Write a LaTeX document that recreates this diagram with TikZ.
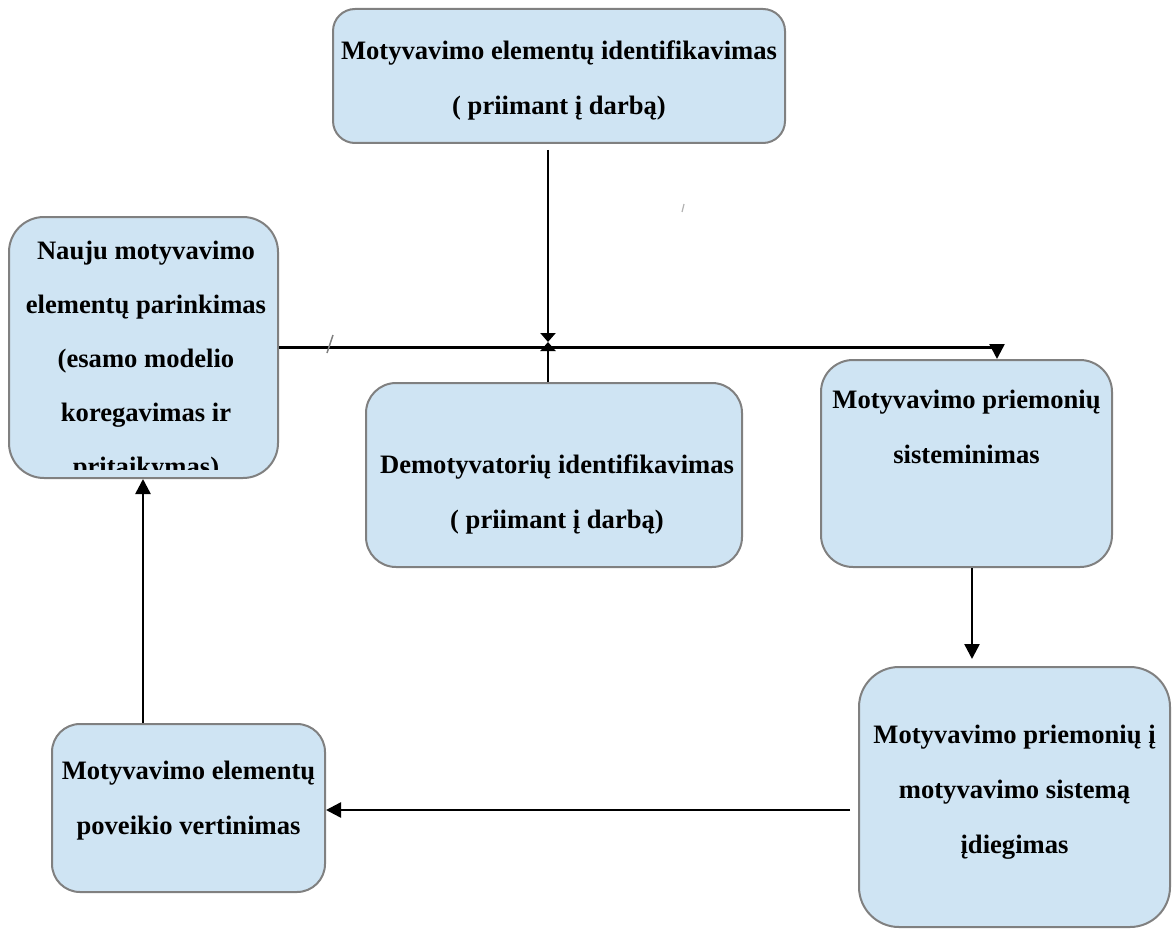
\documentclass[tikz,border=0pt]{standalone}
\usepackage{fontspec}
\setmainfont{Liberation Serif}
\usetikzlibrary{arrows.meta,calc}
\definecolor{boxfill}{RGB}{207,228,243}
\definecolor{boxline}{RGB}{128,128,128}
\begin{document}
\begin{tikzpicture}[x=1pt,y=-1pt,
  box/.style={draw=boxline, line width=2pt, fill=boxfill, inner sep=0pt},
  % anchor=base sits on the baseline of the last line
  lbl/.style={font=\fontsize{26.6}{55}\selectfont\bfseries, align=center, anchor=base, inner sep=0pt},
  arr/.style={line width=2.5pt, -{Triangle[length=15pt,width=15pt]}},
  meet/.style={line width=2.5pt, -{Triangle[length=9pt,width=15pt]}},
]
\useasboundingbox (0,0) rectangle (1174,928);

% process boxes
\node[box, rounded corners=22pt, minimum width=452pt, minimum height=134pt] (top) at (559,76) {};
\node[box, rounded corners=35pt, minimum width=269pt, minimum height=261pt] (left) at (143.5,347.5) {};
\node[box, rounded corners=30pt, minimum width=376pt, minimum height=184pt] (center) at (554,475) {};
\node[box, rounded corners=32pt, minimum width=291pt, minimum height=207pt] (right) at (966.5,463.5) {};
\node[box, rounded corners=40pt, minimum width=311pt, minimum height=260pt] (br) at (1014.5,797) {};
\node[box, rounded corners=28pt, minimum width=273pt, minimum height=168pt] (bl) at (188.5,808) {};

% box texts
\node[lbl] (top-t) at (559,115) {Motyvavimo elementų identifikavimas\\( priimant į darbą)};
\begin{scope}
  \clip (9,217) rectangle (278,469);
  \node[lbl, font=\fontsize{26.6}{54}\selectfont\bfseries] (left-t) at (146,475) {Nauju motyvavimo\\elementų parinkimas\\(esamo modelio\\koregavimas ir\\pritaikymas)};
\end{scope}
\node[lbl] (center-t) at (557,528) {Demotyvatorių identifikavimas\\( priimant į darbą)};
\node[lbl] (right-t) at (966.5,463) {Motyvavimo priemonių\\sisteminimas};
\node[lbl] (br-t) at (1014.5,853) {Motyvavimo priemonių į\\motyvavimo sistemą\\įdiegimas};
\node[lbl] (bl-t) at (188.5,834) {Motyvavimo elementų\\poveikio vertinimas};

% connectors
\coordinate (J) at (548,342);
\draw[meet] ([yshift=-6pt]top.south -| J) -- (J);
\draw[meet] (center.north -| J) -- (J);
\draw[arr] (left.east) -| ([xshift=30.5pt]right.north);
\draw[arr] ([xshift=5.5pt]right.south) -- ([xshift=-42.5pt,yshift=7pt]br.north);
\coordinate (h1) at (850,810);
\draw[arr] (h1) -- (h1 -| bl.east);
\draw[arr] ([xshift=-45.5pt]bl.north) -- ([xshift=-0.5pt]left.south);

% stray pen marks
\draw[gray, line width=1.5pt] (333,335) -- (327,353);
\draw[gray!60, line width=1.2pt] (684,204) -- (682,212);
\end{tikzpicture}
\end{document}
